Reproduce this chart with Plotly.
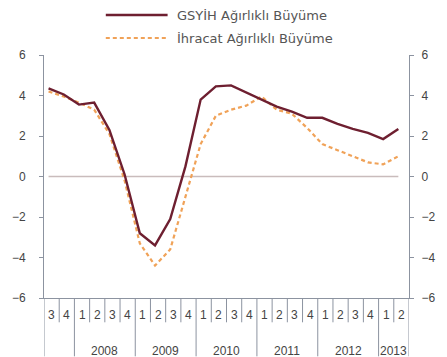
import plotly.graph_objects as go

# Quarterly growth series, 2007Q3 - 2013Q2
quarters = ["3", "4",
            "1", "2", "3", "4",
            "1", "2", "3", "4",
            "1", "2", "3", "4",
            "1", "2", "3", "4",
            "1", "2", "3", "4",
            "1", "2"]
years = ["2008", "2009", "2010", "2011", "2012", "2013"]
year_first_quarter = [2, 6, 10, 14, 18, 22]
year_span = [4, 4, 4, 4, 4, 2]

gsyih = [4.35, 4.05, 3.55, 3.65, 2.3, 0.1, -2.8, -3.4, -2.1, 0.5, 3.8, 4.45,
         4.5, 4.15, 3.8, 3.45, 3.2, 2.9, 2.9, 2.6, 2.35, 2.15, 1.85, 2.35]
ihracat = [4.2, 3.95, 3.65, 3.3, 2.1, -0.2, -3.3, -4.4, -3.6, -1.0, 1.6, 3.0,
           3.3, 3.5, 3.95, 3.3, 3.1, 2.4, 1.6, 1.3, 1.0, 0.7, 0.6, 1.0]
zero = [0] * len(quarters)

y_ticks = [-6, -4, -2, 0, 2, 4, 6]

# points sit a little inside each quarter slot
offset = 0.3
xs = [i + offset for i in range(len(quarters))]
n = len(quarters)

axis_col = "#8c93a0"
txt_col = "#444444"
font_fam = "Liberation Sans, Arial, sans-serif"

fig = go.Figure()
fig.add_trace(go.Scatter(x=xs, y=zero, mode="lines",
                         line=dict(color="#c9bcbc", width=1.6),
                         showlegend=False, hoverinfo="skip"))
fig.add_trace(go.Scatter(x=xs, y=ihracat, mode="lines", name="İhracat Ağırlıklı Büyüme",
                         line=dict(color="#f0a258", width=2.2, dash="4px,3px"),
                         showlegend=False))
fig.add_trace(go.Scatter(x=xs, y=gsyih, mode="lines", name="GSYİH Ağırlıklı Büyüme",
                         line=dict(color="#6e1f30", width=2.4),
                         showlegend=False))
# right-hand mirror axis
fig.add_trace(go.Scatter(x=[xs[0]], y=[None], yaxis="y2", showlegend=False,
                         hoverinfo="skip"))

shapes = []
annotations = []

# quarter separators and labels under the x axis
for k in range(n + 1):
    full = (k == 0 or k == n or k in year_first_quarter)
    shapes.append(dict(type="line", xref="x", yref="paper", x0=k, x1=k,
                       y0=0, y1=-0.24 if full else -0.1,
                       line=dict(color=axis_col, width=1)))
for i, q in enumerate(quarters):
    annotations.append(dict(x=i + 0.5, y=-0.072, xref="x", yref="paper", text=q,
                            showarrow=False, yanchor="middle",
                            font=dict(size=12, color=txt_col, family=font_fam)))
for yr, first, span in zip(years, year_first_quarter, year_span):
    annotations.append(dict(x=first + span / 2, y=-0.218, xref="x", yref="paper",
                            text=yr, showarrow=False, yanchor="middle",
                            font=dict(size=12, color=txt_col, family=font_fam)))

# legend drawn as a key above the plot
key = [("GSYİH Ağırlıklı Büyüme", dict(color="#6e1f30", width=2.6), 15),
       ("İhracat Ağırlıklı Büyüme", dict(color="#f0a258", width=2.2, dash="4px,3px"), 38)]
for label, ln, ypx in key:
    yp = 1 + (55 - ypx) / 243
    shapes.append(dict(type="line", xref="paper", yref="paper",
                       x0=(108 - 44) / 378, x1=(172 - 44) / 378, y0=yp, y1=yp,
                       line=ln))
    annotations.append(dict(x=(180 - 44) / 378, y=yp, xref="paper", yref="paper",
                            text=label, showarrow=False, xanchor="left",
                            yanchor="middle",
                            font=dict(size=13, color="#555555",
                                      family="DejaVu Sans, sans-serif")))

yaxis_common = dict(range=[-6, 6], tickvals=y_ticks, showline=True,
                    linecolor=axis_col, linewidth=1, ticks="outside", ticklen=4,
                    tickcolor=axis_col, showgrid=False, zeroline=False,
                    tickfont=dict(size=12, color=txt_col, family=font_fam))

fig.update_layout(
    width=447, height=357,
    margin=dict(l=44, r=25, t=55, b=59),
    paper_bgcolor="white", plot_bgcolor="white",
    xaxis=dict(range=[0, n], showline=True, linecolor=axis_col, linewidth=1,
               showticklabels=False, ticks="", showgrid=False, zeroline=False),
    yaxis=dict(**yaxis_common, ticklabelstandoff=11),
    yaxis2=dict(**yaxis_common, overlaying="y", side="right", ticklabelstandoff=5),
    shapes=shapes,
    annotations=annotations,
    showlegend=False,
)

fig.write_html("out.html")
